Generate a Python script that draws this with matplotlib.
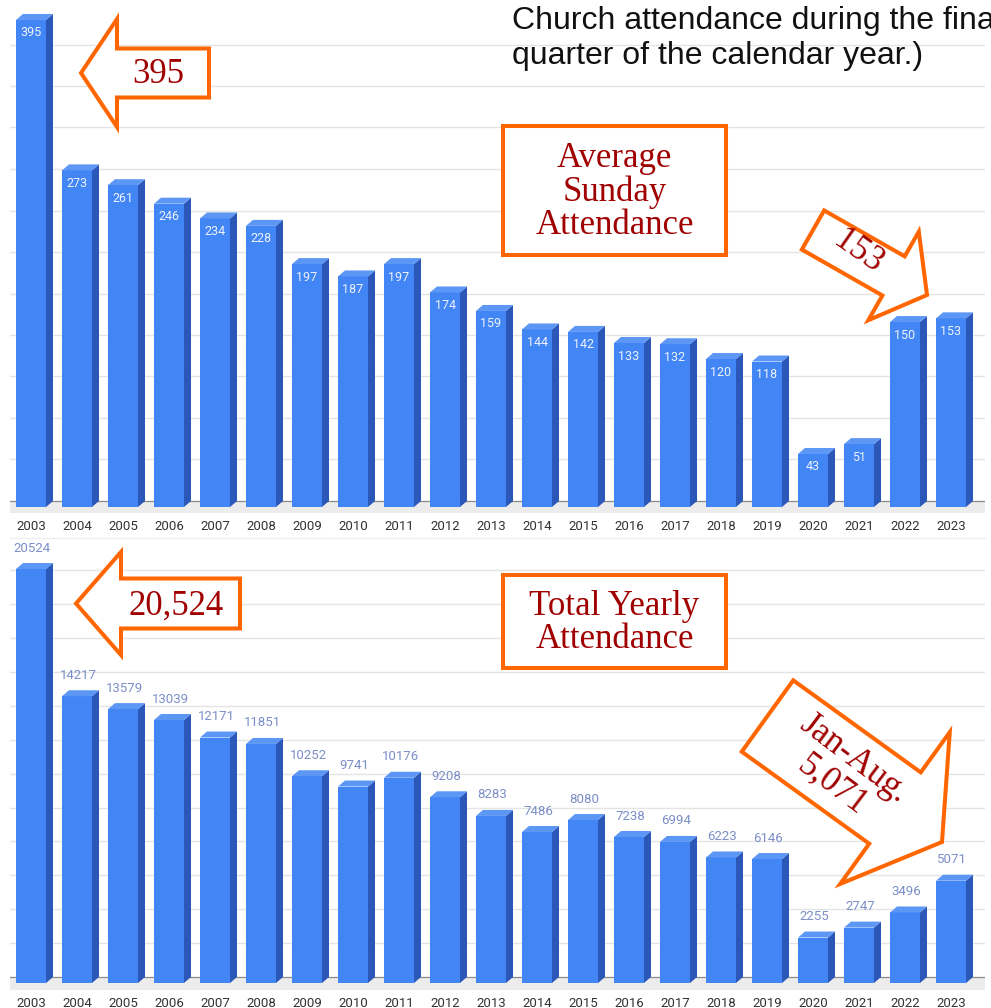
import numpy as np
import matplotlib
matplotlib.use("Agg")
import matplotlib.pyplot as plt
from matplotlib.patches import Polygon, Rectangle

# ---------------- data ----------------
years = [str(y) for y in range(2003, 2024)]
avg_sunday = [395, 273, 261, 246, 234, 228, 197, 187, 197, 174, 159,
              144, 142, 133, 132, 120, 118, 43, 51, 150, 153]
total_yearly = [20524, 14217, 13579, 13039, 12171, 11851, 10252, 9741, 10176,
                9208, 8283, 7486, 8080, 7238, 6994, 6223, 6146, 2255, 2747,
                3496, 5071]

# ---------------- style ----------------
W, H = 991, 1008
FRONT = "#4285f4"
SIDE = "#2b58b8"
TOPC = "#5d97f6"
GRID = "#e4e4e4"
ORANGE = "#ff6600"
DARKRED = "#a00000"
SERIF = ["Liberation Serif", "DejaVu Serif"]
SANS = ["Roboto", "DejaVu Sans"]

fig = plt.figure(figsize=(W / 100, H / 100), dpi=100)
fig.patch.set_facecolor("white")


def px_axes(left, top, right, bottom):
    return fig.add_axes([left / W, 1 - bottom / H, (right - left) / W, (bottom - top) / H])


X0_PX, STEP_PX = 31, 46          # first bar centre, bar spacing
BAR_W_PX, DEP_X, DEP_Y = 30, 7, 6


def bar_chart(ax_top, ax_bottom, base_px, ppu, values, grid_step_px, n_grid,
              label_inside):
    ax = px_axes(10, ax_top, 985, ax_bottom)
    n = len(values)
    xs = np.arange(n)
    ax.set_xlim((10 - X0_PX) / STEP_PX, (985 - X0_PX) / STEP_PX)
    ax.set_ylim(-(ax_bottom - base_px) / ppu, (base_px - ax_top) / ppu)
    w = BAR_W_PX / STEP_PX
    dx = DEP_X / STEP_PX
    dy = DEP_Y / ppu
    # floor
    ax.axhspan(-(ax_bottom - base_px) / ppu, dy, color="#ececec", zorder=0.5, lw=0)
    ax.axhline(dy, color="#8a8a8a", lw=0.9, zorder=1)
    # grid lines on back wall
    gstep = grid_step_px / ppu
    for k in range(1, n_grid + 1):
        ax.axhline(dy + k * gstep, color=GRID, lw=1.0, zorder=0.2)
    # bars
    ax.bar(xs, values, width=w, color=FRONT, zorder=3, lw=0)
    for x, v in zip(xs, values):
        xr = x + w / 2
        xl = x - w / 2
        ax.add_patch(Polygon([(xr, 0), (xr, v), (xr + dx, v + dy), (xr + dx, dy)],
                             closed=True, facecolor=SIDE, lw=0, zorder=3))
        ax.add_patch(Polygon([(xl, v), (xr, v), (xr + dx, v + dy), (xl + dx, v + dy)],
                             closed=True, facecolor=TOPC, lw=0, zorder=3))
        if label_inside:
            ax.annotate(str(v), (x, v), xytext=(0, -13 * 0.72), textcoords="offset points",
                        ha="center", va="center", color="#eef3ff", fontsize=9,
                        family=SANS, zorder=5)
        else:
            ax.annotate(str(v), (x, v), xytext=(1, 21 * 0.72), textcoords="offset points",
                        ha="center", va="center", color="#7b8ec8", fontsize=9.5,
                        family=SANS, zorder=5)
    ax.set_xticks(xs, years)
    ax.set_yticks([])
    ax.tick_params(axis="x", length=0, labelsize=9.5, labelcolor="#333333", pad=5)
    for lab in ax.get_xticklabels():
        lab.set_family(SANS)
    for s in ax.spines.values():
        s.set_visible(False)
    ax.patch.set_alpha(0)
    return ax


ax1 = bar_chart(0, 513, 507, 1.233, avg_sunday, 41.5, 11, True)
ax2 = bar_chart(545, 990, 983, 0.02017, total_yearly, 33.9, 12, False)

# ---------------- overlay (annotations) ----------------
ov = fig.add_axes([0, 0, 1, 1], zorder=10)
ov.set_xlim(0, W)
ov.set_ylim(H, 0)
ov.axis("off")
ov.patch.set_alpha(0)

ov.plot([10, 985], [538, 538], color="#eeeeee", lw=1)


def block_arrow(tail, tip, w, h, hl):
    tail = np.asarray(tail, float)
    tip = np.asarray(tip, float)
    d = tip - tail
    L = np.hypot(*d)
    u = d / L
    nrm = np.array([-u[1], u[0]])
    loc = [(0, -w), (L - hl, -w), (L - hl, -h), (L, 0), (L - hl, h), (L - hl, w), (0, w)]
    pts = [tail + a * u + b * nrm for a, b in loc]
    ov.add_patch(Polygon(pts, closed=True, facecolor="white", edgecolor=ORANGE,
                         lw=2.9, joinstyle="miter", zorder=2))


block_arrow((209, 73), (81, 73), 24.5, 54, 36)
block_arrow((240, 603.5), (76, 603.5), 25, 51.5, 45)
block_arrow((813, 230), (927, 295), 22.5, 51, 38.5)
block_arrow((767.5, 716), (942, 842), 44, 93.6, 58)

ov.text(158, 83, "395", ha="center", va="baseline", fontsize=25, family=SERIF,
        color=DARKRED, zorder=3)
ov.text(176, 615, "20,524", ha="center", va="baseline", fontsize=25, family=SERIF,
        color=DARKRED, zorder=3)
ov.text(858, 252, "153", ha="center", va="center", fontsize=25, family=SERIF,
        color=DARKRED, rotation=-35, rotation_mode="anchor", zorder=3)
ov.text(843, 772, "Jan-Aug.\n5,071", ha="center", va="center", fontsize=25,
        family=SERIF, color=DARKRED, rotation=-37, rotation_mode="anchor",
        linespacing=1.05, multialignment="center", zorder=3)

# boxes
ov.add_patch(Rectangle((503, 126), 223, 129, facecolor="white", edgecolor=ORANGE,
                       lw=2.9, zorder=2))
for txt, yb in zip(["Average", "Sunday", "Attendance"], [167, 201, 234]):
    ov.text(614.5, yb, txt, ha="center", va="baseline", fontsize=25, family=SERIF,
            color=DARKRED, zorder=3)
ov.add_patch(Rectangle((503, 575), 223, 93, facecolor="white", edgecolor=ORANGE,
                       lw=2.9, zorder=2))
for txt, yb in zip(["Total Yearly", "Attendance"], [615, 648]):
    ov.text(614.5, yb, txt, ha="center", va="baseline", fontsize=25, family=SERIF,
            color=DARKRED, zorder=3)

# heading text (cut off at the right edge in the original)
ov.text(512, 29, "Church attendance during the final", ha="left", va="baseline",
        fontsize=23, family=["Liberation Sans", "DejaVu Sans"], color="#111111")
ov.text(512, 64, "quarter of the calendar year.)", ha="left", va="baseline",
        fontsize=23, family=["Liberation Sans", "DejaVu Sans"], color="#111111")

fig.savefig("out.png", dpi=100)
